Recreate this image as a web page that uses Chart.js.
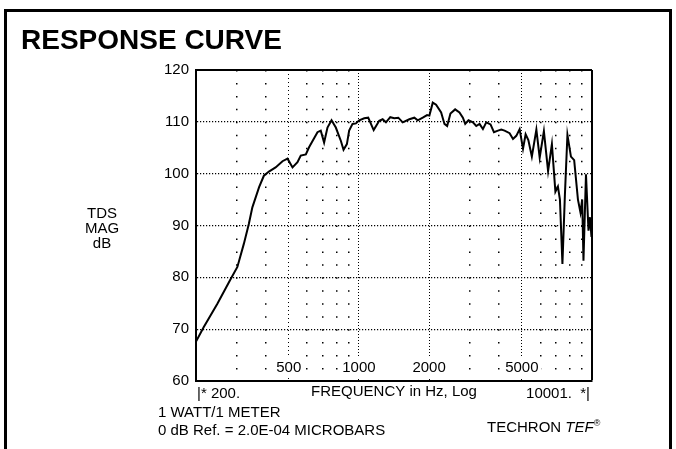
<!DOCTYPE html>
<html>
<head>
<meta charset="utf-8">
<script src="https://cdn.jsdelivr.net/npm/chart.js@4.4.1/dist/chart.umd.min.js"></script>
<style>
html,body{margin:0;padding:0;background:#fff;}
body{width:676px;height:449px;position:relative;overflow:hidden;font-family:"Liberation Sans",Arial,sans-serif;color:#000;}
#frame{position:absolute;left:4px;top:9px;width:662px;height:470px;border:3px solid #000;border-bottom:none;}
canvas{position:absolute;left:0;top:0;}
.t{position:absolute;font-size:15px;line-height:15px;white-space:nowrap;}
#title{position:absolute;left:21px;top:26px;font-size:28px;line-height:28px;font-weight:bold;white-space:nowrap;}
</style>
</head>
<body>
<div id="frame"></div>
<canvas id="c" width="676" height="449"></canvas>
<div id="title">RESPONSE CURVE</div>
<div class="t" style="left:72px;top:205px;width:60px;text-align:center;">TDS<br>MAG<br>dB</div>
<div class="t" style="left:197px;top:385px;">|* 200.</div>
<div class="t" style="right:86px;top:385px;">10001. &nbsp;*|</div>
<div class="t" style="left:158px;top:404px;">1 WATT/1 METER</div>
<div class="t" style="left:158px;top:422px;">0 dB Ref. = 2.0E-04 MICROBARS</div>
<div class="t" style="left:487px;top:416px;">TECHRON <i>TEF</i><sup style="font-size:9px;">®</sup></div>
<script>
// Frequency (Hz) and magnitude (dB)
const freqsHz = [200, 216, 247, 281, 301, 321, 337, 349, 373, 391, 411, 439, 470, 494, 519, 545, 563, 592, 611, 664, 686, 709, 733, 763, 796, 837, 859, 888, 908, 939, 971, 1003, 1054, 1096, 1157, 1222, 1264, 1306, 1363, 1418, 1476, 1541, 1646, 1729, 1788, 1879, 1961, 2006, 2074, 2143, 2253, 2328, 2391, 2470, 2587, 2700, 2793, 2858, 2952, 3084, 3187, 3292, 3404, 3518, 3670, 3796, 3950, 4081, 4217, 4431, 4582, 4734, 4892, 5058, 5191, 5332, 5520, 5772, 5964, 6217, 6480, 6729, 6966, 7141, 7284, 7467, 7653, 7845, 8122, 8385, 8704, 8924, 9075, 9192, 9422, 9659, 9803, 9949, 10000];
const magDb = [67.6, 70.4, 74.9, 79.6, 82.0, 86.5, 90.3, 93.5, 97.4, 99.6, 100.4, 101.2, 102.4, 102.9, 101.2, 102.2, 103.5, 103.7, 105.1, 108.0, 108.3, 106.0, 108.9, 110.3, 108.9, 106.3, 104.6, 105.7, 108.3, 109.6, 109.7, 110.3, 110.7, 110.8, 108.4, 110.2, 110.5, 109.9, 110.9, 110.7, 110.8, 109.9, 110.5, 110.8, 110.3, 110.8, 111.3, 111.2, 113.7, 113.3, 111.8, 109.6, 109.2, 111.6, 112.4, 111.8, 110.8, 109.6, 110.3, 109.9, 109.2, 109.6, 108.6, 109.9, 109.5, 108.0, 108.3, 108.5, 108.3, 107.8, 106.7, 107.3, 108.6, 104.8, 107.6, 106.5, 103.3, 108.5, 103.1, 108.2, 100.5, 105.7, 96.5, 97.5, 95.0, 82.6, 96.0, 107.5, 103.3, 102.6, 95.0, 92.5, 95.0, 83.2, 99.9, 89.0, 91.6, 87.8, 89.5];
// Axis ticks
const xTickValues = [200, 300, 400, 500, 600, 700, 800, 900, 1000, 2000, 3000, 4000, 5000, 6000, 7000, 8000, 9000, 10000];
const xLabeledTicks = [500, 1000, 2000, 5000];
const xMajorTicks = [1000, 2000, 5000];
const yMin = 60, yMax = 120, yStep = 10;

const FONT = "'Liberation Sans', Arial, sans-serif";
const points = freqsHz.map((f, i) => ({x: f, y: magDb[i]}));
const tv = (c) => (c && c.tick) ? c.tick.value : null;

new Chart(document.getElementById('c'), {
  type: 'line',
  data: {datasets: [{data: points, borderColor: '#000', borderWidth: 2, pointRadius: 0, tension: 0, fill: false}]},
  options: {
    responsive: false,
    animation: false,
    devicePixelRatio: 1,
    layout: {padding: {left: 136, right: 84, top: 70, bottom: 46}},
    plugins: {legend: {display: false}, tooltip: {enabled: false}},
    scales: {
      x: {
        type: 'logarithmic', min: 200, max: 10000,
        afterBuildTicks: (s) => { s.ticks = xTickValues.map(v => ({value: v})); },
        afterFit: (s) => { s.height = 22; },
        ticks: {
          autoSkip: false, maxRotation: 0, minRotation: 0, mirror: true, padding: 4, color: '#000',
          font: {family: FONT, size: 15},
          callback: (v) => xLabeledTicks.includes(v) ? String(v) : '',
          showLabelBackdrop: (c) => xLabeledTicks.includes(tv(c)),
          backdropColor: '#fff', backdropPadding: {x: 3, y: 1}
        },
        grid: {
          drawTicks: false,
          color: (c) => tv(c) === 200 ? 'rgba(0,0,0,0)' : '#000',
          lineWidth: (c) => {
            const v = tv(c);
            if (v === 10000) return 2;
            if (xMajorTicks.includes(v) || v === 500) return 1;
            return 1.5;
          }
        },
        border: {
          display: true, color: '#000', width: 2,
          dash: (c) => {
            const v = tv(c);
            if (v === null || v === 200 || v === 10000) return [];
            if (xMajorTicks.includes(v)) return [1, 2];
            if (v === 500) return [1, 3];
            return [1.5, 11.458];
          }
        },
        title: {display: true, text: 'FREQUENCY in Hz, Log', color: '#000', font: {family: FONT, size: 15}, padding: {top: 0, bottom: 2}}
      },
      y: {
        min: yMin, max: yMax,
        afterFit: (s) => { s.width = 60; },
        ticks: {stepSize: yStep, padding: 7, color: '#000', font: {family: FONT, size: 15}},
        grid: {
          drawTicks: false,
          color: (c) => tv(c) === yMin ? 'rgba(0,0,0,0)' : '#000',
          lineWidth: (c) => tv(c) === yMax ? 2 : 1.2
        },
        border: {
          display: true, color: '#000', width: 2,
          dash: (c) => {
            const v = tv(c);
            if (v === null || v === yMax || v === yMin) return [];
            return [1.2, 1.8];
          }
        }
      }
    }
  }
});
</script>
</body>
</html>
